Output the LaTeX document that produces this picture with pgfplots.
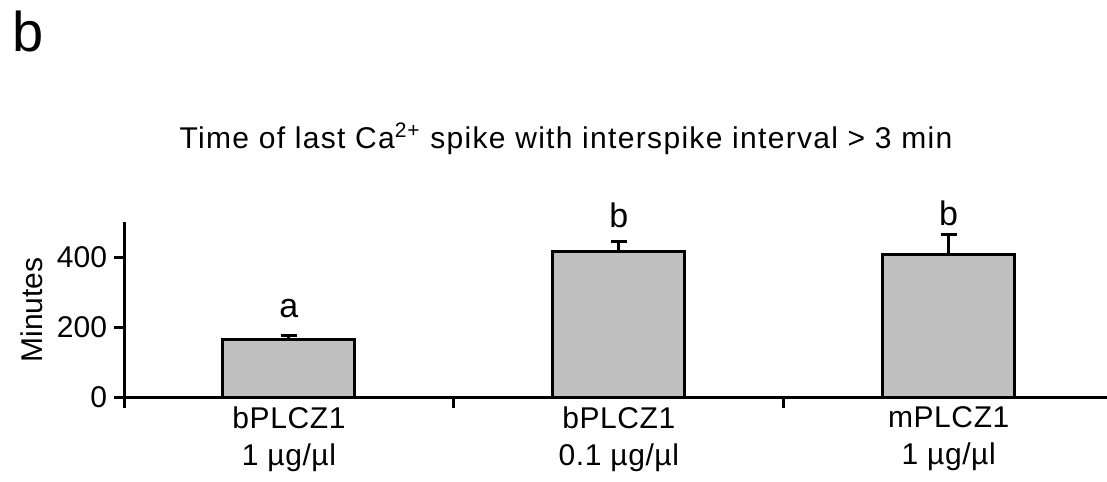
\documentclass[border=0pt]{standalone}
\usepackage{pgfplots}
\pgfplotsset{compat=1.18}
\usepackage{fontspec}
\setmainfont{Liberation Sans}
\definecolor{barfill}{HTML}{C0C0C0}
\begin{document}
\begin{tikzpicture}[x=1bp,y=1bp]
\clip (0,0) rectangle (553.5,240.5);
\begin{axis}[
  at={(62bp,41.75bp)}, anchor=south west,
  scale only axis, width=491.5bp, height=87.6bp,
  xmin=-0.5, xmax=2.48, ymin=0, ymax=500,
  axis x line=bottom, axis y line=left,
  axis line style={-, line width=1.5bp, black},
  tick align=outside, major tick length=5bp,
  tick style={line width=1.5bp, black},
  ytick={0,200,400},
  xtick={-0.5,0.5,1.5}, xticklabels={},
  extra x ticks={0,1,2},
  extra x tick labels={{bPLCZ1\\1 µg/µl},{bPLCZ1\\0.1 µg/µl},{mPLCZ1\\1 µg/µl}},
  extra x tick style={major tick length=0pt, tick style={draw=none},
     tick label style={align=center, font=\fontsize{15bp}{18.5bp}\selectfont\addfontfeature{LetterSpace=2}, yshift=-1bp}},
  /pgf/number format/assume math mode=true,
  yticklabel style={font=\fontsize{15bp}{17bp}\selectfont},
  ylabel={Minutes}, ylabel style={font=\fontsize{15bp}{17bp}\selectfont},
  ybar, bar width=0.4,
  clip=false,
]
\addplot[fill=barfill, draw=black, line width=1.5bp,
  error bars/.cd, y dir=plus, y explicit,
  error bar style={line width=1.5bp, black},
  error mark options={rotate=90, mark size=4bp, line width=1.5bp, black}]
  coordinates {(0,166) +- (0,12) (1,418) +- (0,28) (2,407) +- (0,57)};
\node[anchor=base, font=\fontsize{17bp}{20bp}\selectfont, inner sep=0] at (axis cs:0,227) {a};
\node[anchor=base, font=\fontsize{17bp}{20bp}\selectfont, inner sep=0] at (axis cs:1,484) {b};
\node[anchor=base, font=\fontsize{17bp}{20bp}\selectfont, inner sep=0] at (axis cs:2,492) {b};
\end{axis}
\node[anchor=base, inner sep=0, font=\fontsize{15bp}{17bp}\selectfont\addfontfeature{LetterSpace=4.4}] at (283,166.5) {Time of last Ca\textsuperscript{2+} spike with interspike interval > 3 min};
\node[anchor=base west, inner sep=0, font=\fontsize{28bp}{32bp}\selectfont] at (6,215) {b};
\end{tikzpicture}
\end{document}
